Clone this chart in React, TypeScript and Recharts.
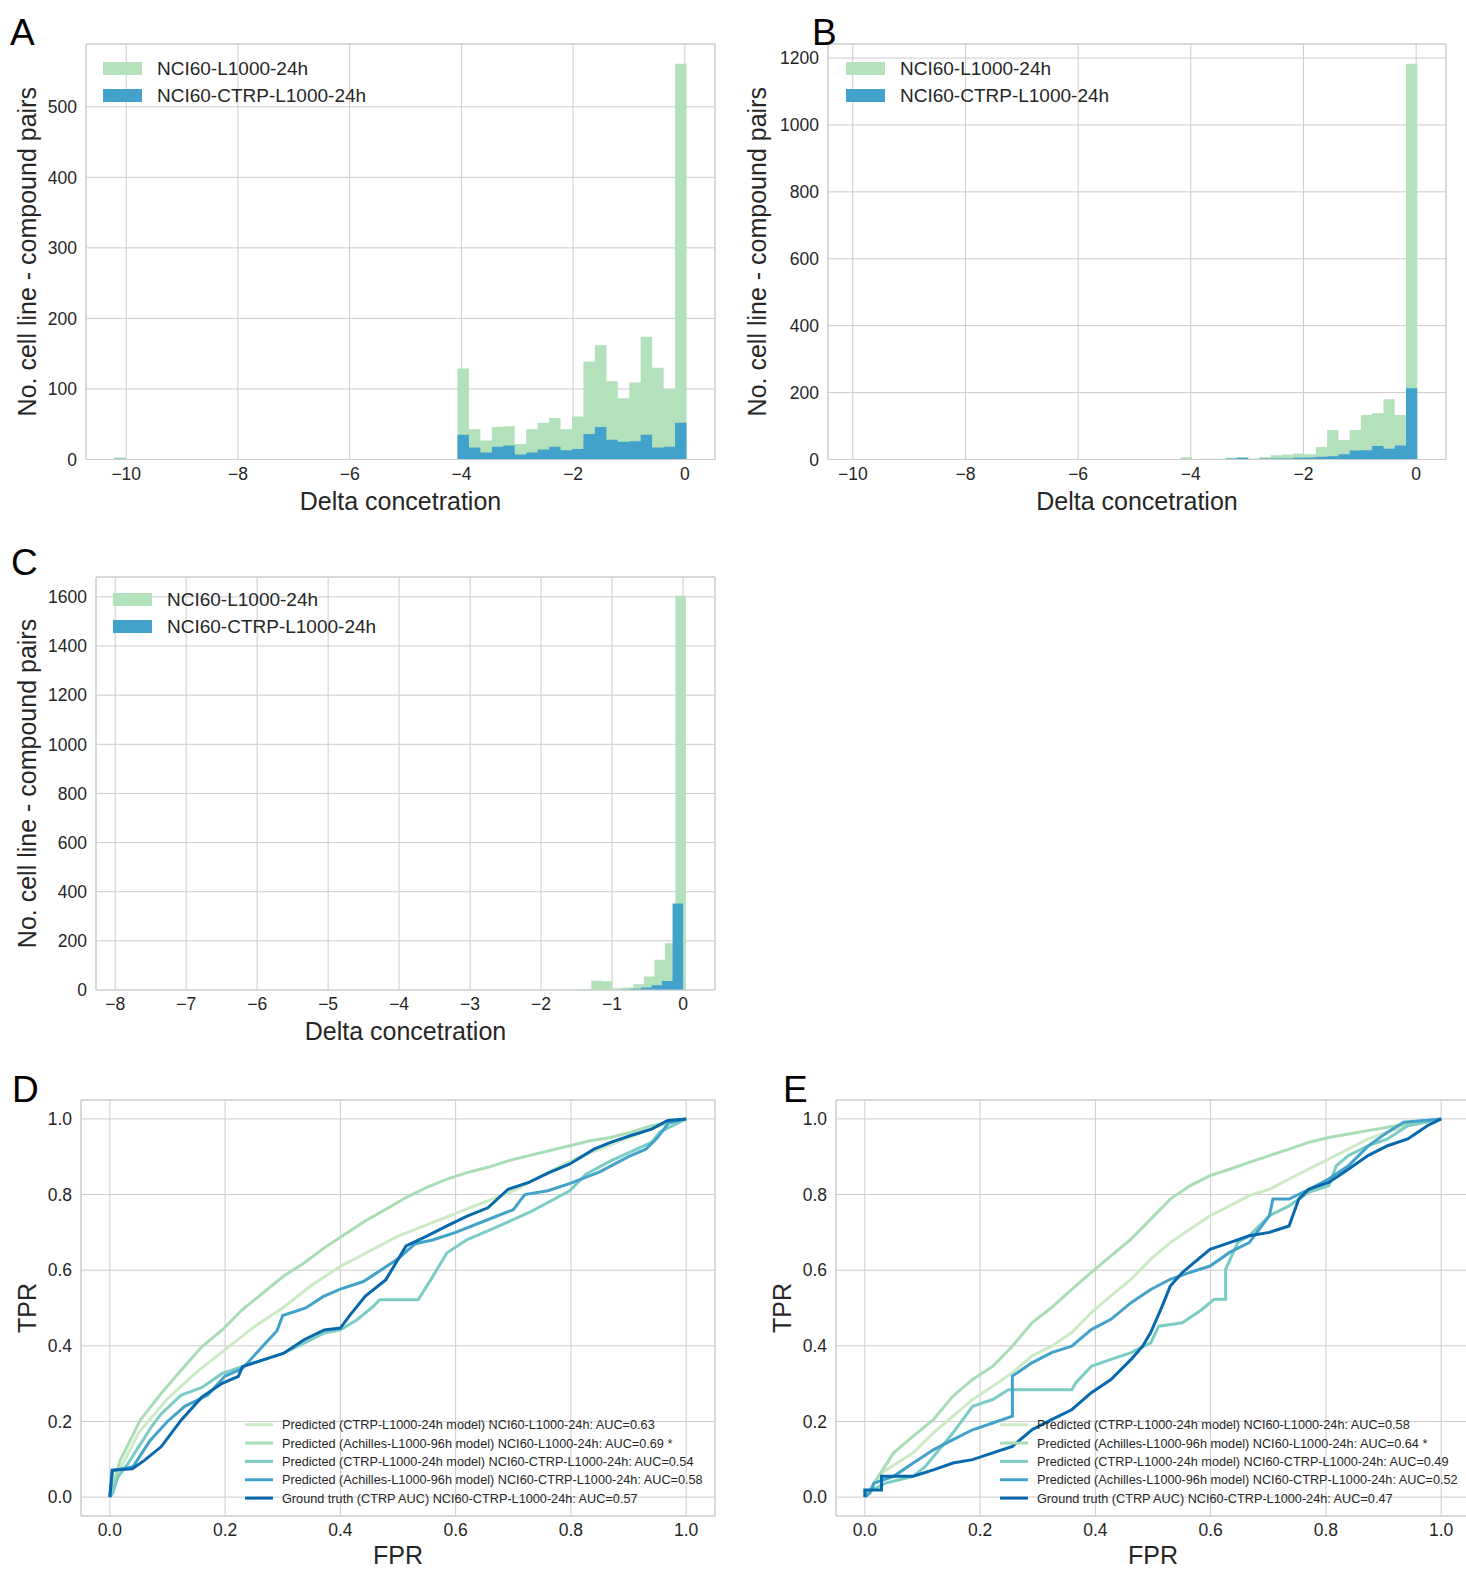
import React from 'react';
import { Area, CartesianGrid, ComposedChart, Line, ReferenceArea, XAxis, YAxis } from 'recharts';

const FONT = '"Liberation Sans", Arial, Helvetica, sans-serif';
const INK = '#262626';
const GRID = '#cccccc';
const GREEN = '#b2e1bb';
const BLUE = '#42a2cc';
const ROC_COLORS = ['#ccebc5', '#a8ddb5', '#7bccc4', '#43a2ca', '#0868ac'];

// histogram runs: left edge of first bin, bin width, counts left to right
type Run = { start: number; width: number; counts: number[] };

const histA_L1000: Run[] = [
  { start: -10.22, width: 0.205, counts: [3] },
  { start: -4.07, width: 0.205, counts: [129, 43, 27, 46, 47, 22, 43, 52, 59, 43, 61, 139, 162, 111, 87, 109, 174, 130, 100, 561] },
];
const histA_CTRP: Run[] = [
  { start: -10.22, width: 0.205, counts: [1] },
  { start: -4.07, width: 0.205, counts: [35, 17, 10, 18, 20, 7, 10, 14, 18, 13, 15, 36, 46, 28, 25, 26, 35, 17, 18, 52] },
];
const histB_L1000: Run[] = [
  { start: -4.18, width: 0.2, counts: [7, 0, 2, 2, 5, 7, 3, 7, 13, 15, 18, 16, 37, 88, 58, 88, 133, 138, 180, 133, 1183] },
];
const histB_CTRP: Run[] = [
  { start: -4.18, width: 0.2, counts: [1, 0, 0, 1, 3, 5, 1, 3, 3, 3, 5, 6, 8, 10, 16, 27, 28, 40, 32, 42, 213] },
];
const histC_L1000: Run[] = [
  { start: -1.44, width: 0.148, counts: [4, 38, 36, 7, 10, 23, 55, 123, 190, 1605] },
];
const histC_CTRP: Run[] = [
  { start: -0.888, width: 0.148, counts: [2, 5, 10, 19, 37, 352] },
];

const histLegend = ['NCI60-L1000-24h', 'NCI60-CTRP-L1000-24h'];

const ticksA = [-10, -8, -6, -4, -2, 0];
const ticksC = [-8, -7, -6, -5, -4, -3, -2, -1, 0];
const countTicksA = [0, 100, 200, 300, 400, 500];
const countTicksB = [0, 200, 400, 600, 800, 1000, 1200];
const countTicksC = [0, 200, 400, 600, 800, 1000, 1200, 1400, 1600];
const rateTicks = [0, 0.2, 0.4, 0.6, 0.8, 1.0];

// ROC curves, [FPR, TPR]
const rocD_ctrpL1000: [number, number][] = [
  [0, 0], [0.02, 0.08], [0.05, 0.17], [0.1, 0.26], [0.15, 0.33], [0.2, 0.39], [0.25, 0.45], [0.3, 0.5],
  [0.35, 0.56], [0.4, 0.61], [0.45, 0.65], [0.5, 0.69], [0.55, 0.72], [0.6, 0.75], [0.65, 0.78], [0.7, 0.81],
  [0.75, 0.85], [0.8, 0.89], [0.85, 0.92], [0.9, 0.95], [0.95, 0.98], [1, 1],
];
const rocD_achL1000: [number, number][] = [
  [0, 0], [0.018, 0.097], [0.053, 0.204], [0.089, 0.274], [0.124, 0.336], [0.16, 0.398], [0.195, 0.442],
  [0.23, 0.496], [0.266, 0.54], [0.301, 0.584], [0.337, 0.619], [0.372, 0.659], [0.408, 0.695], [0.443, 0.73],
  [0.479, 0.761], [0.514, 0.792], [0.55, 0.819], [0.585, 0.841], [0.62, 0.858], [0.656, 0.872], [0.691, 0.889],
  [0.727, 0.903], [0.762, 0.916], [0.798, 0.929], [0.833, 0.942], [0.869, 0.951], [0.904, 0.965], [0.94, 0.982], [1, 1],
];
const rocD_ctrpCtrp: [number, number][] = [
  [0, 0], [0.005, 0.01], [0.014, 0.053], [0.032, 0.09], [0.053, 0.14], [0.074, 0.19], [0.089, 0.22], [0.124, 0.27],
  [0.16, 0.29], [0.195, 0.327], [0.23, 0.345], [0.266, 0.363], [0.301, 0.38], [0.337, 0.407], [0.372, 0.434],
  [0.4, 0.442], [0.429, 0.469], [0.457, 0.504], [0.468, 0.522], [0.535, 0.522], [0.557, 0.575], [0.585, 0.646],
  [0.62, 0.681], [0.656, 0.704], [0.727, 0.752], [0.798, 0.81], [0.826, 0.854], [0.869, 0.889], [0.94, 0.938],
  [0.954, 0.965], [1, 1],
];
const rocD_achCtrp: [number, number][] = [
  [0, 0], [0.005, 0.07], [0.04, 0.08], [0.07, 0.15], [0.1, 0.2], [0.13, 0.24], [0.17, 0.27], [0.2, 0.32],
  [0.23, 0.34], [0.26, 0.39], [0.29, 0.44], [0.3, 0.48], [0.34, 0.5], [0.37, 0.53], [0.4, 0.55], [0.44, 0.57],
  [0.47, 0.6], [0.5, 0.63], [0.53, 0.67], [0.56, 0.68], [0.6, 0.7], [0.65, 0.73], [0.7, 0.76], [0.72, 0.8],
  [0.76, 0.81], [0.8, 0.83], [0.85, 0.86], [0.9, 0.9], [0.93, 0.92], [0.95, 0.95], [0.97, 0.99], [1, 1],
];
const rocD_truth: [number, number][] = [
  [0, 0], [0.004, 0.071], [0.039, 0.075], [0.06, 0.097], [0.089, 0.133], [0.124, 0.204], [0.16, 0.265],
  [0.195, 0.301], [0.223, 0.319], [0.23, 0.345], [0.266, 0.363], [0.301, 0.38], [0.337, 0.416], [0.372, 0.442],
  [0.4, 0.447], [0.415, 0.478], [0.443, 0.531], [0.479, 0.575], [0.514, 0.664], [0.55, 0.69], [0.585, 0.717],
  [0.62, 0.743], [0.656, 0.765], [0.691, 0.814], [0.727, 0.832], [0.762, 0.858], [0.798, 0.881], [0.84, 0.92],
  [0.869, 0.938], [0.904, 0.956], [0.94, 0.973], [0.968, 0.996], [1, 1],
];

const rocE_ctrpL1000: [number, number][] = [
  [0, 0], [0.029, 0.064], [0.084, 0.117], [0.119, 0.17], [0.153, 0.214], [0.187, 0.258], [0.222, 0.293],
  [0.256, 0.329], [0.29, 0.373], [0.324, 0.399], [0.359, 0.435], [0.393, 0.488], [0.427, 0.532], [0.462, 0.576],
  [0.496, 0.629], [0.53, 0.673], [0.564, 0.708], [0.599, 0.744], [0.633, 0.77], [0.667, 0.797], [0.702, 0.814],
  [0.736, 0.841], [0.77, 0.867], [0.805, 0.894], [0.839, 0.92], [0.873, 0.947], [0.907, 0.965], [0.942, 0.982], [1, 1],
];
const rocE_achL1000: [number, number][] = [
  [0, 0], [0.016, 0.037], [0.05, 0.117], [0.084, 0.161], [0.119, 0.205], [0.153, 0.267], [0.187, 0.311],
  [0.222, 0.346], [0.256, 0.399], [0.29, 0.461], [0.324, 0.501], [0.359, 0.549], [0.393, 0.594], [0.427, 0.638],
  [0.462, 0.682], [0.496, 0.735], [0.53, 0.788], [0.564, 0.823], [0.599, 0.85], [0.633, 0.867], [0.667, 0.885],
  [0.702, 0.903], [0.736, 0.92], [0.77, 0.938], [0.805, 0.951], [0.839, 0.96], [0.873, 0.969], [0.907, 0.978],
  [0.942, 0.987], [1, 1],
];
const rocE_ctrpCtrp: [number, number][] = [
  [0, 0], [0.002, 0.011], [0.036, 0.037], [0.084, 0.055], [0.105, 0.081], [0.153, 0.17], [0.187, 0.24],
  [0.222, 0.258], [0.249, 0.284], [0.359, 0.284], [0.366, 0.302], [0.393, 0.346], [0.427, 0.364], [0.462, 0.382],
  [0.496, 0.408], [0.51, 0.452], [0.551, 0.461], [0.585, 0.496], [0.606, 0.523], [0.626, 0.523], [0.626, 0.602],
  [0.647, 0.673], [0.667, 0.691], [0.702, 0.744], [0.736, 0.77], [0.77, 0.806], [0.805, 0.823], [0.818, 0.876],
  [0.839, 0.903], [0.873, 0.929], [0.907, 0.947], [0.942, 0.982], [1, 1],
];
const rocE_achCtrp: [number, number][] = [
  [0, 0], [0.009, 0.011], [0.016, 0.037], [0.05, 0.055], [0.084, 0.09], [0.119, 0.125], [0.153, 0.152],
  [0.187, 0.178], [0.222, 0.196], [0.256, 0.214], [0.256, 0.32], [0.29, 0.355], [0.324, 0.382], [0.359, 0.399],
  [0.393, 0.443], [0.427, 0.47], [0.462, 0.514], [0.496, 0.549], [0.53, 0.576], [0.564, 0.594], [0.599, 0.611],
  [0.633, 0.647], [0.667, 0.673], [0.702, 0.744], [0.708, 0.788], [0.736, 0.788], [0.77, 0.813], [0.805, 0.841],
  [0.839, 0.876], [0.873, 0.928], [0.907, 0.965], [0.935, 0.991], [1, 1],
];
const rocE_truth: [number, number][] = [
  [0, 0], [0, 0.019], [0.029, 0.019], [0.029, 0.055], [0.084, 0.055], [0.119, 0.072], [0.153, 0.09],
  [0.187, 0.099], [0.222, 0.117], [0.256, 0.134], [0.29, 0.178], [0.324, 0.205], [0.359, 0.231], [0.393, 0.276],
  [0.427, 0.311], [0.462, 0.364], [0.482, 0.399], [0.496, 0.435], [0.516, 0.505], [0.53, 0.558], [0.551, 0.594],
  [0.564, 0.611], [0.599, 0.655], [0.633, 0.673], [0.667, 0.691], [0.702, 0.7], [0.736, 0.717], [0.753, 0.788],
  [0.77, 0.814], [0.805, 0.832], [0.839, 0.867], [0.873, 0.903], [0.907, 0.929], [0.942, 0.947], [0.976, 0.982], [1, 1],
];

const legendD = [
  'Predicted (CTRP-L1000-24h model) NCI60-L1000-24h: AUC=0.63',
  'Predicted (Achilles-L1000-96h model) NCI60-L1000-24h: AUC=0.69 *',
  'Predicted (CTRP-L1000-24h model) NCI60-CTRP-L1000-24h: AUC=0.54',
  'Predicted (Achilles-L1000-96h model) NCI60-CTRP-L1000-24h: AUC=0.58',
  'Ground truth (CTRP AUC) NCI60-CTRP-L1000-24h: AUC=0.57',
];
const legendE = [
  'Predicted (CTRP-L1000-24h model) NCI60-L1000-24h: AUC=0.58',
  'Predicted (Achilles-L1000-96h model) NCI60-L1000-24h: AUC=0.64 *',
  'Predicted (CTRP-L1000-24h model) NCI60-CTRP-L1000-24h: AUC=0.49',
  'Predicted (Achilles-L1000-96h model) NCI60-CTRP-L1000-24h: AUC=0.52',
  'Ground truth (CTRP AUC) NCI60-CTRP-L1000-24h: AUC=0.47',
];

const rocD = [rocD_ctrpL1000, rocD_achL1000, rocD_ctrpCtrp, rocD_achCtrp, rocD_truth];
const rocE = [rocE_ctrpL1000, rocE_achL1000, rocE_ctrpCtrp, rocE_achCtrp, rocE_truth];

// step rows for Area stepAfter, merged over both histograms' bin edges
const r4 = (v: number) => Math.round(v * 10000) / 10000;
function countAt(runs: Run[], x: number) {
  for (const run of runs) {
    const i = Math.floor((x - run.start) / run.width + 1e-3);
    if (i >= 0 && i < run.counts.length) return run.counts[i];
  }
  return 0;
}
function histRows(a: Run[], b: Run[]) {
  const xs = new Set<number>();
  [...a, ...b].forEach((run) => {
    for (let i = 0; i <= run.counts.length; i++) xs.add(r4(run.start + i * run.width));
  });
  return [...xs].sort((p, q) => p - q).map((x) => ({ x, l1000: countAt(a, x), ctrp: countAt(b, x) }));
}

const minus = (v: number) => String(v).replace('-', '\u2212');
const oneDec = (v: number) => v.toFixed(1);

type Box = { x: number; y: number; w: number; h: number };
const YW = 100;
const MT = 10;
const MR = 10;
const XH = 64;
const tickStyle = { fill: INK, fontSize: 17.5, fontFamily: FONT };
const LABEL_SIZE = 25;

function Panel(props: {
  box: Box;
  xDomain: [number, number];
  yDomain: [number, number];
  xTicks: number[];
  yTicks: number[];
  xFmt: (v: number) => string;
  yFmt: (v: number) => string;
  xLabel: string;
  yLabel: string;
  xLabelGap: number;
  yLabelGap: number;
  data?: any[];
  children: React.ReactNode;
}) {
  const { box, xDomain, yDomain } = props;
  const xLab = (p: any) => {
    const vb = p.viewBox;
    return (
      <text x={vb.x + vb.width / 2} y={vb.y + props.xLabelGap} textAnchor="middle" fontSize={LABEL_SIZE} fill={INK} fontFamily={FONT}>
        {props.xLabel}
      </text>
    );
  };
  const yLab = (p: any) => {
    const vb = p.viewBox;
    const cx = vb.x + vb.width - props.yLabelGap;
    const cy = vb.y + vb.height / 2;
    return (
      <text x={cx} y={cy} dy="0.35em" transform={`rotate(-90 ${cx} ${cy})`} textAnchor="middle" fontSize={LABEL_SIZE} fill={INK} fontFamily={FONT}>
        {props.yLabel}
      </text>
    );
  };
  return (
    <div style={{ position: 'absolute', left: box.x - YW, top: box.y - MT }}>
      <ComposedChart
        width={YW + box.w + MR}
        height={MT + box.h + XH}
        data={props.data}
        margin={{ top: MT, right: MR, bottom: 0, left: 0 }}
      >
        <CartesianGrid stroke={GRID} strokeWidth={1} />
        <XAxis
          type="number"
          dataKey="x"
          domain={xDomain}
          ticks={props.xTicks}
          allowDataOverflow
          interval={0}
          height={XH}
          axisLine={false}
          tickLine={false}
          tickSize={0}
          tickMargin={8}
          tick={tickStyle}
          tickFormatter={props.xFmt}
          label={xLab}
        />
        <YAxis
          type="number"
          domain={yDomain}
          ticks={props.yTicks}
          allowDataOverflow
          interval={0}
          width={YW}
          axisLine={false}
          tickLine={false}
          tickSize={0}
          tickMargin={9}
          tick={tickStyle}
          tickFormatter={props.yFmt}
          label={yLab}
        />
        {props.children}
        <ReferenceArea
          x1={xDomain[0]}
          x2={xDomain[1]}
          y1={yDomain[0]}
          y2={yDomain[1]}
          fill="none"
          stroke={GRID}
          strokeWidth={1}
          ifOverflow="visible"
        />
      </ComposedChart>
    </div>
  );
}

function HistPanel(p: { box: Box; xDomain: [number, number]; yDomain: [number, number]; xTicks: number[]; yTicks: number[]; yLabelGap: number; l1000: Run[]; ctrp: Run[] }) {
  return (
    <Panel
      box={p.box}
      xDomain={p.xDomain}
      yDomain={p.yDomain}
      xTicks={p.xTicks}
      yTicks={p.yTicks}
      xFmt={minus}
      yFmt={(v) => String(v)}
      xLabel="Delta concetration"
      yLabel="No. cell line - compound pairs"
      xLabelGap={50}
      yLabelGap={p.yLabelGap}
      data={histRows(p.l1000, p.ctrp)}
    >
      <Area dataKey="l1000" type="stepAfter" fill={GREEN} fillOpacity={1} stroke="none" dot={false} activeDot={false} isAnimationActive={false} />
      <Area dataKey="ctrp" type="stepAfter" fill={BLUE} fillOpacity={1} stroke="none" dot={false} activeDot={false} isAnimationActive={false} />
    </Panel>
  );
}

function RocPanel(p: { box: Box; curves: [number, number][][] }) {
  return (
    <Panel
      box={p.box}
      xDomain={[-0.05, 1.05]}
      yDomain={[-0.05, 1.05]}
      xTicks={rateTicks}
      yTicks={rateTicks}
      xFmt={oneDec}
      yFmt={oneDec}
      xLabel="FPR"
      yLabel="TPR"
      xLabelGap={48}
      yLabelGap={54}
    >
      {p.curves.map((c, i) => (
        <Line
          key={i}
          data={c.map(([x, y]) => ({ x, y }))}
          dataKey="y"
          type="linear"
          stroke={ROC_COLORS[i]}
          strokeWidth={3}
          dot={false}
          activeDot={false}
          isAnimationActive={false}
        />
      ))}
    </Panel>
  );
}

function HistLegend({ x, y }: { x: number; y: number }) {
  return (
    <g fontFamily={FONT} fontSize={19} fill={INK}>
      <rect x={x} y={y} width={39} height={13} fill={GREEN} />
      <rect x={x} y={y + 27} width={39} height={13} fill={BLUE} />
      <text x={x + 54} y={y + 13.3}>{histLegend[0]}</text>
      <text x={x + 54} y={y + 40.3}>{histLegend[1]}</text>
    </g>
  );
}

function RocLegend({ x, y, labels }: { x: number; y: number; labels: string[] }) {
  return (
    <g fontFamily={FONT} fontSize={12.7} fill={INK}>
      {labels.map((t, i) => (
        <g key={i}>
          <line x1={x} x2={x + 28} y1={y + i * 18.35} y2={y + i * 18.35} stroke={ROC_COLORS[i]} strokeWidth={3} />
          <text x={x + 37} y={y + i * 18.35 + 4.5}>{t}</text>
        </g>
      ))}
    </g>
  );
}

export default function App() {
  return (
    <div style={{ position: 'absolute', left: 0, top: 0, width: 1466, height: 1569, overflow: 'hidden', background: '#fff', fontFamily: FONT }}>
      <HistPanel box={{ x: 86, y: 43.5, w: 629, h: 415.5 }} xDomain={[-10.72, 0.54]} yDomain={[0, 589]} xTicks={ticksA} yTicks={countTicksA} yLabelGap={59} l1000={histA_L1000} ctrp={histA_CTRP} />
      <HistPanel box={{ x: 828, y: 43.5, w: 618, h: 415.5 }} xDomain={[-10.44, 0.53]} yDomain={[0, 1242]} xTicks={ticksA} yTicks={countTicksB} yLabelGap={71} l1000={histB_L1000} ctrp={histB_CTRP} />
      <HistPanel box={{ x: 96, y: 577, w: 619, h: 413 }} xDomain={[-8.27, 0.45]} yDomain={[0, 1681]} xTicks={ticksC} yTicks={countTicksC} yLabelGap={69} l1000={histC_L1000} ctrp={histC_CTRP} />
      <RocPanel box={{ x: 81, y: 1100, w: 634, h: 416 }} curves={rocD} />
      <RocPanel box={{ x: 836, y: 1100, w: 634, h: 416 }} curves={rocE} />
      <svg width={1466} height={1569} style={{ position: 'absolute', left: 0, top: 0, pointerEvents: 'none' }}>
        <g fontFamily={FONT} fontSize={37} fill="#000">
          <text x={10} y={45}>A</text>
          <text x={812} y={45}>B</text>
          <text x={11} y={575}>C</text>
          <text x={12} y={1102}>D</text>
          <text x={783} y={1102}>E</text>
        </g>
        <HistLegend x={103} y={62} />
        <HistLegend x={846} y={62} />
        <HistLegend x={113} y={593} />
        <RocLegend x={245} y={1424.7} labels={legendD} />
        <RocLegend x={1000} y={1424.7} labels={legendE} />
      </svg>
    </div>
  );
}
